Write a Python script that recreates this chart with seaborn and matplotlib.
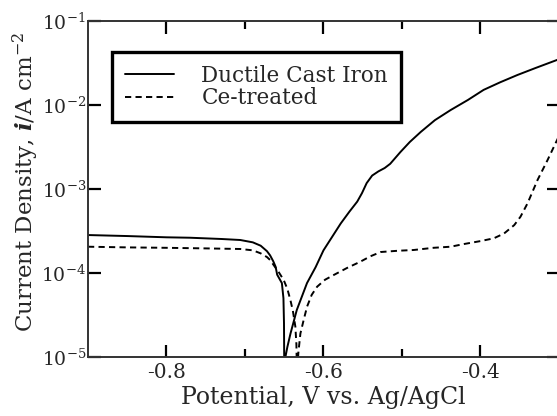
import numpy as np
import pandas as pd
import matplotlib
matplotlib.use("Agg")
import matplotlib.pyplot as plt
import matplotlib.ticker as mticker
from matplotlib.lines import Line2D
import seaborn as sns

# ---- data ----
ductile_V = [-0.900, -0.850, -0.800, -0.770, -0.730, -0.706, -0.690, -0.680, -0.672, -0.668,
             -0.664, -0.661, -0.659, -0.656, -0.653, -0.651, -0.6503, -0.6500,
             -0.6490, -0.6485, -0.646, -0.642, -0.634, -0.621, -0.610, -0.600, -0.589,
             -0.578, -0.567, -0.557, -0.551, -0.545, -0.538, -0.530, -0.522, -0.515, -0.502,
             -0.490, -0.476, -0.458, -0.438, -0.416, -0.396, -0.375, -0.353, -0.330, -0.300]
ductile_logi = [-3.548, -3.560, -3.575, -3.580, -3.595, -3.607, -3.635, -3.675, -3.740, -3.790,
                -3.860, -3.925, -4.020, -4.070, -4.120, -4.300, -4.600, -5.100,
                -5.100, -5.000, -4.880, -4.720, -4.440, -4.120, -3.930, -3.730, -3.570,
                -3.410, -3.270, -3.150, -3.050, -2.930, -2.840, -2.790, -2.750, -2.700, -2.560,
                -2.440, -2.320, -2.180, -2.060, -1.940, -1.820, -1.730, -1.643, -1.560, -1.455]

ce_V = [-0.900, -0.850, -0.800, -0.750, -0.706, -0.690, -0.680, -0.672, -0.668, -0.6635,
        -0.657, -0.6507, -0.646, -0.6422, -0.639, -0.6358, -0.6345, -0.6340,
        -0.6330, -0.632, -0.6294, -0.625, -0.6209, -0.615, -0.6081, -0.598, -0.587,
        -0.570, -0.553, -0.540, -0.527, -0.505, -0.485, -0.460, -0.438, -0.421,
        -0.400, -0.383, -0.370, -0.357, -0.349, -0.340, -0.3273, -0.3145, -0.300]
ce_logi = [-3.687, -3.695, -3.700, -3.707, -3.714, -3.730, -3.766, -3.810, -3.845, -3.905,
           -3.990, -4.083, -4.190, -4.320, -4.450, -4.640, -4.850, -5.100,
           -5.100, -4.950, -4.720, -4.550, -4.400, -4.260, -4.163, -4.080, -4.024,
           -3.940, -3.865, -3.800, -3.750, -3.735, -3.726, -3.700, -3.687, -3.655,
           -3.620, -3.587, -3.530, -3.430, -3.330, -3.170, -2.893, -2.655, -2.370]

series_names = ["Ductile Cast Iron", "Ce-treated"]
x_ticks = [-0.8, -0.6, -0.4]
x_tick_labels = ["-0.8", "-0.6", "-0.4"]
y_ticks = [1e-5, 1e-4, 1e-3, 1e-2, 1e-1]
y_tick_labels = ["$10^{-5}$", "$10^{-4}$", "$10^{-3}$", "$10^{-2}$", "$10^{-1}$"]

df = pd.concat([
    pd.DataFrame({"V": ductile_V, "i": np.power(10.0, ductile_logi),
                  "series": series_names[0]}),
    pd.DataFrame({"V": ce_V, "i": np.power(10.0, ce_logi),
                  "series": series_names[1]}),
], ignore_index=True)

# ---- style ----
sns.set_style("ticks")
plt.rcParams["font.family"] = ["DejaVu Serif"]
plt.rcParams["mathtext.fontset"] = "dejavuserif"
plt.rcParams["axes.unicode_minus"] = False

fig = plt.figure(figsize=(5.57, 4.16), dpi=100)
ax = fig.add_axes([0.158, 0.1418, 0.8455, 0.8077])

dash = (3.2, 2.2)
sns.lineplot(data=df, x="V", y="i", hue="series", style="series",
             palette={series_names[0]: "black", series_names[1]: "black"},
             dashes={series_names[0]: "", series_names[1]: dash},
             sort=False, estimator=None, linewidth=1.4, ax=ax, legend=False)

ax.set_yscale("log")
ax.set_xlim(-0.9, -0.3)
ax.set_ylim(1e-5, 1e-1)

ax.set_xticks(x_ticks)
ax.set_xticklabels(x_tick_labels)
ax.xaxis.set_minor_locator(mticker.FixedLocator([-0.7, -0.5]))
ax.set_yticks(y_ticks)
ax.set_yticklabels(y_tick_labels)
ax.yaxis.set_minor_locator(mticker.NullLocator())

for side in ["left", "right", "top", "bottom"]:
    ax.spines[side].set_visible(True)
    ax.spines[side].set_color("#333333")
    ax.spines[side].set_linewidth(1.4)

ax.tick_params(which="major", direction="in", length=9, width=1.6,
               top=True, right=True, color="black")
ax.tick_params(which="minor", direction="in", length=6, width=1.6,
               top=True, right=True, color="black")
ax.tick_params(axis="x", which="major", pad=4, labelsize=14.5)
ax.tick_params(axis="y", which="major", pad=1.5, labelsize=13.5)

ax.set_xlabel("Potential, V vs. Ag/AgCl", fontsize=17, labelpad=3)
ax.set_ylabel("Current Density, $\\mathbfit{i}$/A cm$^{-2}$", fontsize=16.5)
ax.yaxis.set_label_coords(-0.100, 0.52)

handles = [Line2D([], [], color="black", lw=1.4, linestyle="-"),
           Line2D([], [], color="black", lw=1.4, linestyle=(0, dash))]
leg = ax.legend(handles, series_names, loc="upper left",
                bbox_to_anchor=(0.051, 0.908), borderaxespad=0.0,
                fontsize=15.5, frameon=True,
                fancybox=False, edgecolor="black", handlelength=2.3,
                borderpad=0.6, labelspacing=0.02, handletextpad=1.25)
leg.get_frame().set_linewidth(2.4)
leg.get_frame().set_alpha(1)

fig.savefig("out.png", dpi=100)
